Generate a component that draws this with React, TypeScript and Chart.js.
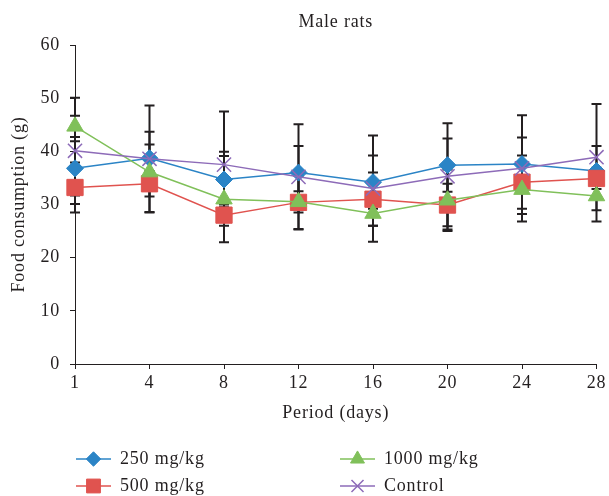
import React, { useEffect, useRef } from 'react';
import { Chart, registerables } from 'chart.js';
import { drawPoint } from 'chart.js/helpers';

Chart.register(...registerables);

const days = ['1', '4', '8', '12', '16', '20', '24', '28'];
const yMin = 0;
const yMax = 60;
const yStep = 10;

const seriesNames = ['250 mg/kg', '500 mg/kg', '1000 mg/kg', 'Control'];
const dose250 = [36.8, 38.7, 34.7, 36.0, 34.2, 37.4, 37.6, 36.3];
const dose250Err = [5.1, 2.6, 5.2, 5.0, 5.0, 5.0, 5.0, 4.7];
const dose500 = [33.2, 33.9, 28.0, 30.4, 31.0, 29.9, 34.2, 34.9];
const dose500Err = [4.7, 2.4, 2.0, 5.0, 5.0, 4.0, 5.0, 2.0];
const dose1000 = [44.7, 36.1, 31.0, 30.5, 28.3, 30.8, 32.8, 31.6];
const dose1000Err = [2.0, 7.6, 8.1, 2.0, 2.3, 5.8, 4.6, 4.8];
const control = [40.1, 38.6, 37.5, 35.2, 33.0, 35.3, 36.8, 38.9];
const controlErr = [10.0, 10.0, 10.0, 9.9, 10.0, 10.0, 10.0, 10.0];

const INK = '#231f20';
const FONT = "'Liberation Serif', 'DejaVu Serif', serif";
const FS = 18;
const SPACING = '0.8px';

const styles = [
  { color: '#2b84c6', pointStyle: 'rectRot', radius: 8.5, border: 1 },
  { color: '#e0534f', pointStyle: 'rect', radius: 11.5, border: 1 },
  { color: '#80c05a', pointStyle: 'triangle', radius: 9.5, border: 1 },
  { color: '#8d6bb8', pointStyle: 'crossRot', radius: 10, border: 1.5 },
];

const spacingPlugin = {
  id: 'spacing',
  beforeDraw(chart: any) {
    (chart.ctx as any).letterSpacing = SPACING;
  },
};

const errorBarPlugin = {
  id: 'errorBars',
  beforeDatasetsDraw(chart: any) {
    const ctx = chart.ctx;
    const yScale = chart.scales.y;
    ctx.save();
    ctx.strokeStyle = INK;
    ctx.lineWidth = 2;
    chart.data.datasets.forEach((ds: any, i: number) => {
      const meta = chart.getDatasetMeta(i);
      ds.data.forEach((v: number, j: number) => {
        const e = ds.errors[j];
        const pt = meta.data[j];
        if (!pt) return;
        const x = pt.x;
        const yTop = yScale.getPixelForValue(v + e);
        const yBot = yScale.getPixelForValue(v - e);
        ctx.beginPath();
        ctx.moveTo(x, yTop);
        ctx.lineTo(x, yBot);
        ctx.moveTo(x - 5, yTop);
        ctx.lineTo(x + 5, yTop);
        ctx.moveTo(x - 5, yBot);
        ctx.lineTo(x + 5, yBot);
        ctx.stroke();
      });
    });
    ctx.restore();
  },
};

const titleLegendPlugin = {
  id: 'titleLegend',
  afterDraw(chart: any) {
    const ctx = chart.ctx;
    const area = chart.chartArea;
    ctx.save();
    (ctx as any).letterSpacing = SPACING;
    ctx.fillStyle = INK;
    ctx.font = `${FS}px ${FONT}`;
    ctx.textAlign = 'center';
    ctx.textBaseline = 'middle';
    ctx.fillText('Male rats', (area.left + area.right) / 2, 22);

    const cols = [76, 340];
    const rows = [459, 486];
    const slots = [
      [0, 0],
      [0, 1],
      [1, 0],
      [1, 1],
    ];
    seriesNames.forEach((name, i) => {
      const [c, r] = slots[i];
      const x = cols[c];
      const y = rows[r];
      const st = styles[i];
      ctx.strokeStyle = st.color;
      ctx.fillStyle = st.color;
      ctx.lineWidth = 1.5;
      ctx.beginPath();
      ctx.moveTo(x, y);
      ctx.lineTo(x + 35, y);
      ctx.stroke();
      ctx.lineWidth = st.border;
      drawPoint(ctx, { pointStyle: st.pointStyle, radius: st.radius * 0.85, rotation: 0, borderWidth: st.border } as any, x + 17.5, y);
      ctx.fillStyle = INK;
      ctx.font = `${FS}px ${FONT}`;
      ctx.textAlign = 'left';
      ctx.textBaseline = 'middle';
      ctx.fillText(name, x + 44, y);
    });
    ctx.restore();
  },
};

export default function App() {
  const canvasRef = useRef<HTMLCanvasElement | null>(null);

  useEffect(() => {
    if (!canvasRef.current) return;
    const all = [
      [dose250, dose250Err],
      [dose500, dose500Err],
      [dose1000, dose1000Err],
      [control, controlErr],
    ];
    const datasets = all.map(([vals, errs], i) => ({
      label: seriesNames[i],
      data: vals,
      errors: errs,
      borderColor: styles[i].color,
      backgroundColor: styles[i].color,
      borderWidth: 1.5,
      pointStyle: styles[i].pointStyle,
      pointRadius: styles[i].radius,
      pointBorderWidth: styles[i].border,
      pointBackgroundColor: styles[i].color,
      pointBorderColor: styles[i].color,
      fill: false,
      tension: 0,
      order: 4 - i,
    }));

    const chart = new Chart(canvasRef.current, {
      type: 'line',
      data: { labels: days, datasets: datasets as any },
      plugins: [spacingPlugin, errorBarPlugin, titleLegendPlugin],
      options: {
        animation: false,
        responsive: true,
        maintainAspectRatio: false,
        layout: { padding: { left: 0, right: 9, top: 45, bottom: 72 } },
        plugins: {
          legend: { display: false },
          title: { display: false },
          tooltip: { enabled: false },
        },
        scales: {
          x: {
            type: 'category',
            offset: false,
            grid: { display: true, drawOnChartArea: false, drawTicks: true, tickLength: 5, color: INK },
            border: { display: true, color: INK, width: 1 },
            ticks: { color: INK, font: { family: FONT, size: FS }, padding: 3, maxRotation: 0, autoSkip: false },
            title: { display: true, text: 'Period (days)', color: INK, font: { family: FONT, size: FS }, padding: 0 },
            afterFit: (scale: any) => {
              scale.height = 60;
            },
          },
          y: {
            min: yMin,
            max: yMax,
            grid: { display: true, drawOnChartArea: false, drawTicks: true, tickLength: 5, color: INK },
            border: { display: true, color: INK, width: 1 },
            ticks: { stepSize: yStep, color: INK, font: { family: FONT, size: FS }, padding: 10 },
            title: { display: true, text: 'Food consumption (g)', color: INK, font: { family: FONT, size: FS }, padding: { top: 8, bottom: 0 } },
            afterFit: (scale: any) => {
              scale.width = 75;
            },
          },
        },
      },
    });
    return () => chart.destroy();
  }, []);

  return (
    <div style={{ position: 'absolute', left: 0, top: 0, width: 609, height: 496, background: '#ffffff' }}>
      <canvas ref={canvasRef} />
    </div>
  );
}
